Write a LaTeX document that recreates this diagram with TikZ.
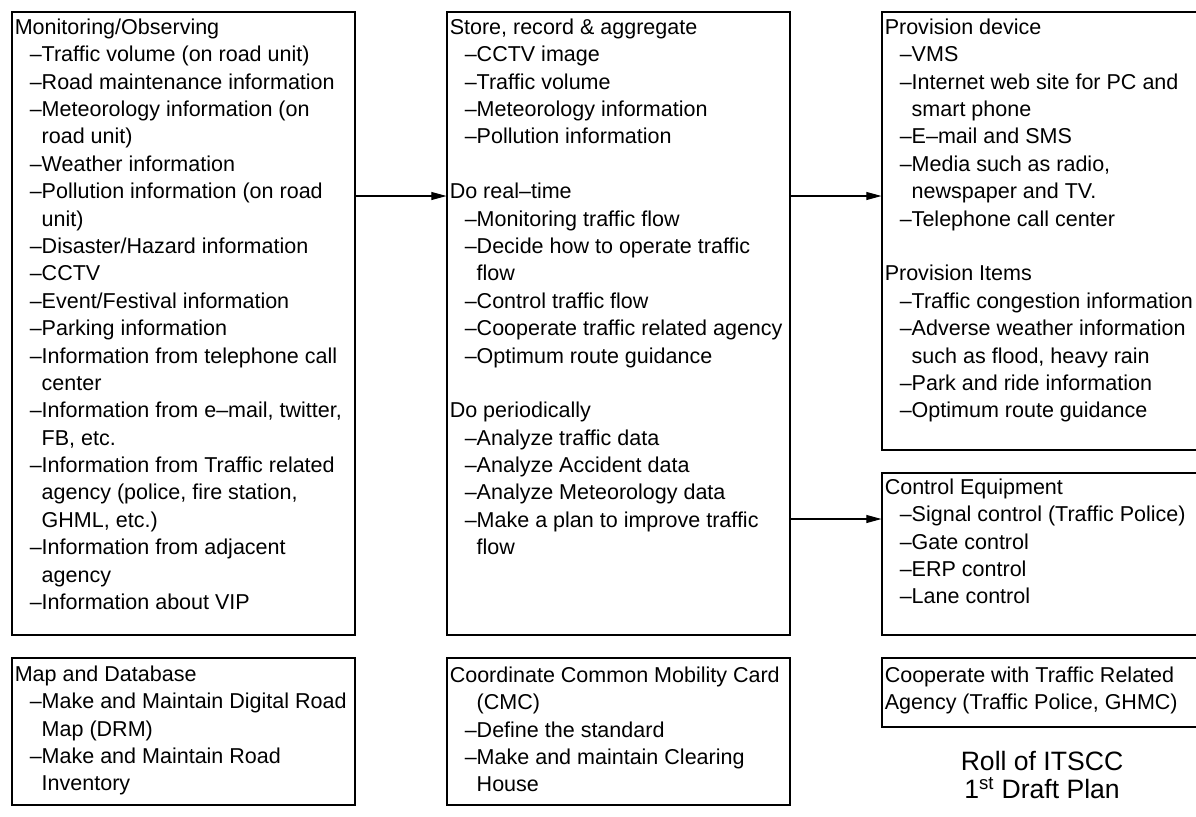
\documentclass[tikz,border=0pt]{standalone}
\usepackage{fontspec}
\setmainfont{Liberation Sans}
\usepackage{tikz}
\usetikzlibrary{arrows.meta,positioning,fit,calc}
\newcommand{\bodyfont}{\fontsize{15.3pt}{19.47pt}\selectfont}
\newcommand{\titlefont}{\fontsize{18.9pt}{19.9pt}\selectfont}
\newcommand{\bitem}{\hspace*{0.375cm}–}
\newcommand{\bcont}{\hspace*{0.375cm}\phantom{–}}
\newcommand{\boxlines}[1]{\begin{tabular}[t]{@{}l@{}}#1\end{tabular}}

\begin{document}
\begin{tikzpicture}[x=0.025cm,y=-0.025cm,
  panel/.style={rectangle,draw=black,line width=0.75pt,inner sep=0pt},
  txt/.style={anchor=base west,inner sep=0pt,font=\bodyfont},
  flow/.style={line width=0.75pt,-{Triangle[length=0.38cm,width=0.2cm]}}
]
\useasboundingbox (0,0) rectangle (1196,816);
\node[panel,fit={(12,12) (355,635)}]   (mon)   {};
\node[panel,fit={(447,12) (790,635)}]  (store) {};
\node[panel,fit={(882,12) (1205,450)}] (prov)  {};
\node[panel,fit={(882,473) (1205,635)}] (ctrl) {};
\node[panel,fit={(12,658) (355,805)}]  (map)   {};
\node[panel,fit={(447,658) (790,805)}] (cmc)   {};
\node[panel,fit={(882,658) (1205,727)}] (coop) {};
\coordinate (rt)   at (0,196);
\coordinate (plan) at (0,519);

\node[txt] (monT) at ($(mon.north west)+(3,23)$) {\boxlines{Monitoring/Observing\\
  \bitem Traffic volume (on road unit)\\
  \bitem Road maintenance information\\
  \bitem Meteorology information (on\\
  \bcont road unit)\\
  \bitem Weather information\\
  \bitem Pollution information (on road\\
  \bcont unit)\\
  \bitem Disaster/Hazard information\\
  \bitem CCTV\\
  \bitem Event/Festival information\\
  \bitem Parking information\\
  \bitem Information from telephone call\\
  \bcont center\\
  \bitem Information from e–mail, twitter,\\
  \bcont FB, etc.\\
  \bitem Information from Traffic related\\
  \bcont agency (police, fire station,\\
  \bcont GHML, etc.)\\
  \bitem Information from adjacent\\
  \bcont agency\\
  \bitem Information about VIP}};
\node[txt] (storeT) at ($(store.north west)+(3,23)$) {\boxlines{Store, record \& aggregate\\
  \bitem CCTV image\\
  \bitem Traffic volume\\
  \bitem Meteorology information\\
  \bitem Pollution information\\
  \mbox{}\\
  Do real–time\\
  \bitem Monitoring traffic flow\\
  \bitem Decide how to operate traffic\\
  \bcont flow\\
  \bitem Control traffic flow\\
  \bitem Cooperate traffic related agency\\
  \bitem Optimum route guidance\\
  \mbox{}\\
  Do periodically\\
  \bitem Analyze traffic data\\
  \bitem Analyze Accident data\\
  \bitem Analyze Meteorology data\\
  \bitem Make a plan to improve traffic\\
  \bcont flow}};
\node[txt] (provT) at ($(prov.north west)+(3,23)$) {\boxlines{Provision device\\
  \bitem VMS\\
  \bitem Internet web site for PC and\\
  \bcont smart phone\\
  \bitem E–mail and SMS\\
  \bitem Media such as radio,\\
  \bcont newspaper and TV.\\
  \bitem Telephone call center\\
  \mbox{}\\
  Provision Items\\
  \bitem Traffic congestion information\\
  \bitem Adverse weather information\\
  \bcont such as flood, heavy rain\\
  \bitem Park and ride information\\
  \bitem Optimum route guidance}};
\node[txt] (ctrlT) at ($(ctrl.north west)+(3,22)$) {\boxlines{Control Equipment\\
  \bitem Signal control (Traffic Police)\\
  \bitem Gate control\\
  \bitem ERP control\\
  \bitem Lane control}};
\node[txt] (mapT) at ($(map.north west)+(3,24)$) {\boxlines{Map and Database\\
  \bitem Make and Maintain Digital Road\\
  \bcont Map (DRM)\\
  \bitem Make and Maintain Road\\
  \bcont Inventory}};
\node[txt] (cmcT) at ($(cmc.north west)+(3,25)$) {\boxlines{Coordinate Common Mobility Card\\
  \bcont (CMC)\\
  \bitem Define the standard\\
  \bitem Make and maintain Clearing\\
  \bcont House}};
\node[txt] (coopT) at ($(coop.north west)+(3,25)$) {\boxlines{Cooperate with Traffic Related\\
  Agency (Traffic Police, GHMC)}};
\node[anchor=base,align=center,inner sep=0pt,font=\titlefont] (title) at (1042,798)
  {Roll of ITSCC\\ 1\textsuperscript{st} Draft Plan};

\draw[flow] (mon.east |- rt)    -- (store.west |- rt);
\draw[flow] (store.east |- rt)  -- (prov.west |- rt);
\draw[flow] (store.east |- plan) -- (ctrl.west |- plan);
\end{tikzpicture}
\end{document}
